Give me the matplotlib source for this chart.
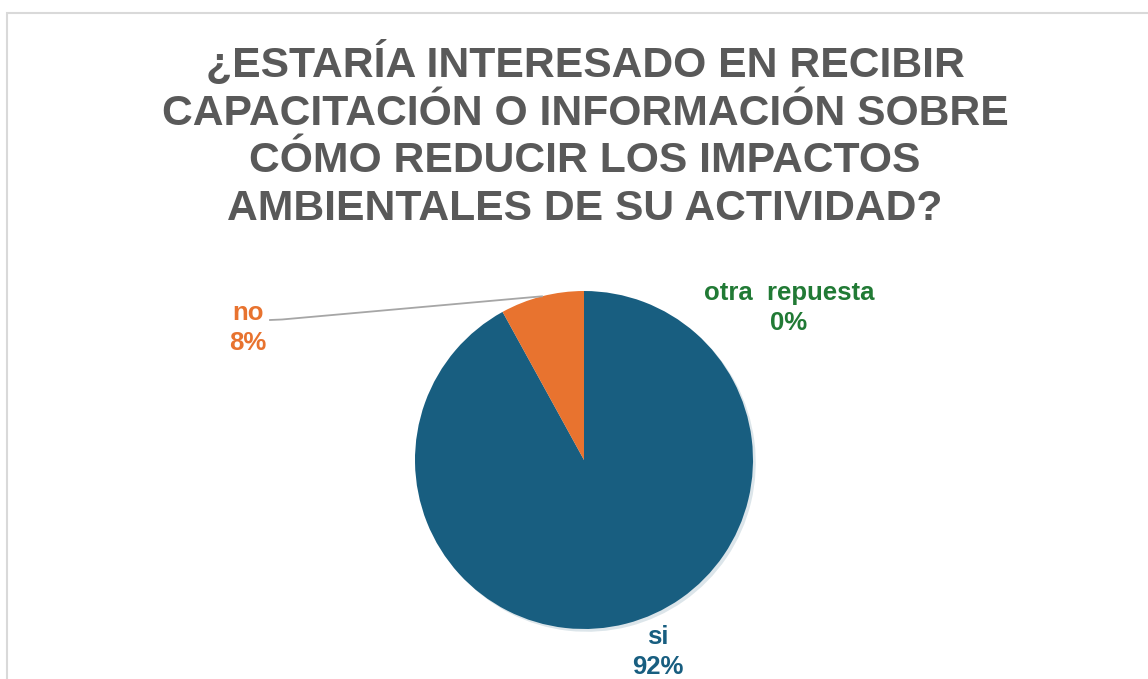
import numpy as np
import matplotlib
matplotlib.use("Agg")
import matplotlib.pyplot as plt

# ── Data ─────────────────────────────────────────────────────────────────────
labels = ["si", "no", "otra  repuesta"]
values = [92, 8, 0]
colors = ["#185e80", "#e8732f", "#217a35"]
title = ("¿ESTARÍA INTERESADO EN RECIBIR\nCAPACITACIÓN O INFORMACIÓN SOBRE\n"
         "CÓMO REDUCIR LOS IMPACTOS\nAMBIENTALES DE SU ACTIVIDAD?")

W, H = 1148, 679
plt.rcParams["font.family"] = ["Liberation Sans", "DejaVu Sans"]

fig = plt.figure(figsize=(W / 100, H / 100), dpi=100)
ax = fig.add_axes([0, 0, 1, 1])

# pixel-based coordinates, y measured from the top of the image
cx, cy, r = 584, 460, 169
wedges, _ = ax.pie(
    values, colors=colors, startangle=90, counterclock=False,
    center=(cx, H - cy), radius=r,
    wedgeprops={"linewidth": 0},
    shadow={"ox": 2, "oy": -2, "shade": 0.1, "alpha": 0.15},
)
ax.set_xlim(0, W)
ax.set_ylim(0, H)
ax.set_aspect("auto")
ax.axis("off")

# chart-area border (only top and left are visible in the crop)
ax.plot([7, 7, W + 5], [-5, H - 13, H - 13], color="#d9d9d9", lw=1.5,
        solid_joinstyle="miter", clip_on=False)

ax.text(585, H - 41, title, ha="center", va="top", fontsize=30.7,
        fontweight="bold", color="#595959", linespacing=1.245)

label_pos = {"si": (658, 652), "no": (248, 328), "otra  repuesta": (789, 308)}
for lab, val, col in zip(labels, values, colors):
    x, y = label_pos[lab]
    ax.text(x, H - y, f"{lab}\n{val}%", ha="center", va="center",
            fontsize=18.5, fontweight="bold", color=col, linespacing=1.33)

# leader line for the "no" slice
w = wedges[1]
mid = np.deg2rad((w.theta1 + w.theta2) / 2)
ex, ey = cx + r * np.cos(mid), (H - cy) + r * np.sin(mid)
ax.plot([270, 282, ex], [H - 320, H - 319.5, ey], color="#a6a6a6", lw=1.3)

fig.savefig("out.png", dpi=100, facecolor="white")
